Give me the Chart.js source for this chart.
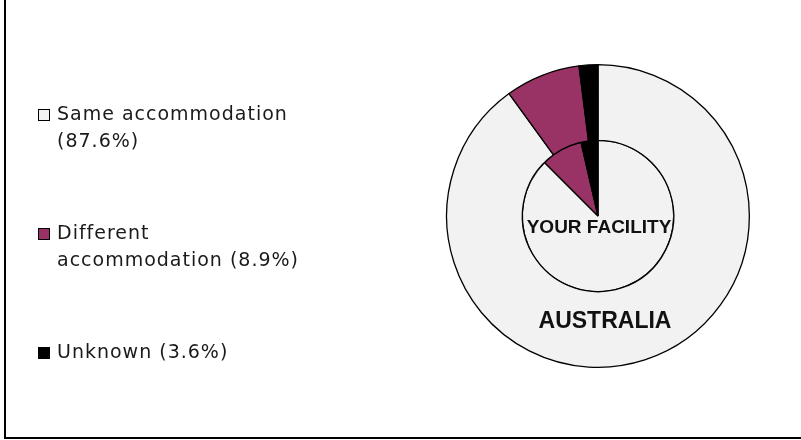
<!DOCTYPE html>
<html>
<head>
<meta charset="utf-8">
<script src="https://cdn.jsdelivr.net/npm/chart.js@4"></script>
<style>
    html, body { margin: 0; padding: 0; background: #ffffff; }
    #wrap { position: relative; width: 801px; height: 440px; }
    #frame {
        position: absolute; left: 4px; top: 0; width: 805px; height: 437px;
        border-left: 2px solid #000; border-bottom: 2px solid #000;
    }
    canvas { position: absolute; left: 0; top: 0; }
</style>
</head>
<body>
<div id="wrap">
    <div id="frame"></div>
    <canvas id="myChart" width="801" height="440"></canvas>
</div>
<script>
"use strict";

const categories = ["Same accommodation", "Different accommodation", "Unknown"];
const facilityValues = [87.6, 8.9, 3.6];
const australiaValues = [90.0, 8.0, 2.0];
const sliceColors = ["#f2f2f2", "#993366", "#000000"];
const ringLabels = ["AUSTRALIA", "YOUR FACILITY"];

const legendFont = "19px 'DejaVu Sans'";

// legend drawn on the left, wrapped like the original
const sideLegend = {
    id: "sideLegend",
    afterDraw(chart) {
        const ctx = chart.ctx;
        const tops = [115, 234, 353];
        ctx.save();
        ctx.font = legendFont;
        ctx.letterSpacing = "1px";
        ctx.textBaseline = "middle";
        for (let i = 0; i < categories.length; i++) {
            const text = categories[i] + " (" + facilityValues[i] + "%)";
            const words = text.split(" ");
            let lines = [];
            let line = "";
            for (const w of words) {
                const test = line ? line + " " + w : w;
                if (ctx.measureText(test).width > 250 && line) {
                    lines.push(line);
                    line = w;
                } else {
                    line = test;
                }
            }
            lines.push(line);
            ctx.fillStyle = sliceColors[i];
            ctx.fillRect(38.5, tops[i] - 5.5, 11, 11);
            ctx.strokeStyle = "#000";
            ctx.lineWidth = 1;
            ctx.strokeRect(38.5, tops[i] - 5.5, 11, 11);
            ctx.fillStyle = "#1a1a1a";
            lines.forEach((l, k) => ctx.fillText(l, 57, tops[i] + k * 27));
        }
        ctx.restore();
    },
};

// ring titles placed from the arc geometry
const ringText = {
    id: "ringText",
    afterDraw(chart) {
        const ctx = chart.ctx;
        const outer = chart.getDatasetMeta(0).data[0];
        const cx = outer.x;
        const cy = outer.y;
        ctx.save();
        ctx.fillStyle = "#111";
        ctx.textAlign = "center";
        ctx.textBaseline = "middle";
        ctx.font = "bold 23px 'Liberation Sans'";
        ctx.fillText(ringLabels[0], cx + 7, cy + outer.outerRadius * 0.7);
        ctx.font = "bold 19px 'Liberation Sans'";
        ctx.fillText(ringLabels[1], cx + 1, cy + 12);
        ctx.restore();
    },
};

const ctx = document.getElementById("myChart").getContext("2d");

new Chart(ctx, {
    type: "pie",
    data: {
        labels: categories,
        datasets: [
            {
                label: ringLabels[0],
                data: australiaValues,
                backgroundColor: sliceColors,
                borderColor: "#000000",
                borderWidth: 1.3,
                hoverOffset: 0,
            },
            {
                label: ringLabels[1],
                data: facilityValues,
                backgroundColor: sliceColors,
                borderColor: "#000000",
                borderWidth: 1.3,
                hoverOffset: 0,
            },
        ],
    },
    options: {
        responsive: false,
        animation: false,
        layout: {
            padding: { left: 446, right: 51, top: 64, bottom: 72 },
        },
        plugins: {
            legend: { display: false },
            tooltip: { enabled: false },
        },
    },
    plugins: [sideLegend, ringText],
});
</script>
</body>
</html>
